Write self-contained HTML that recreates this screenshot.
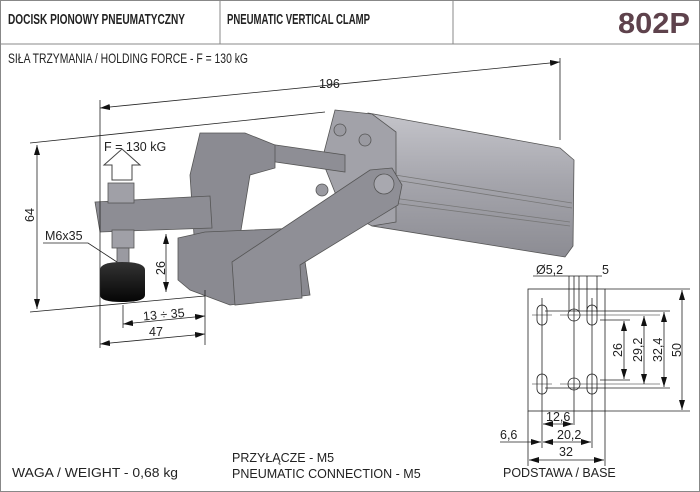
<!DOCTYPE html>
<html><head><meta charset="utf-8"><style>
html,body{margin:0;padding:0;background:#fff;}
svg{display:block;font-family:"Liberation Sans",sans-serif;}
</style></head><body>
<svg width="700" height="492" viewBox="0 0 700 492" xmlns="http://www.w3.org/2000/svg">
<defs>
<marker id="a" viewBox="0 0 10 6" refX="10" refY="3" markerWidth="10" markerHeight="6" orient="auto-start-reverse" markerUnits="userSpaceOnUse"><path d="M0,0L10,3L0,6z" fill="#111"/></marker>
<linearGradient id="cyl" x1="0" y1="0" x2="0" y2="1"><stop offset="0" stop-color="#c4c4ca"/><stop offset="0.5" stop-color="#a4a4ab"/><stop offset="1" stop-color="#8c8c93"/></linearGradient>
<linearGradient id="foot" x1="0" y1="0" x2="0" y2="1"><stop offset="0" stop-color="#333"/><stop offset="1" stop-color="#050505"/></linearGradient>
</defs>
<rect x="0.5" y="0.5" width="699" height="491" fill="#fff" stroke="#888"/>
<line x1="0" y1="44" x2="700" y2="44" stroke="#888"/>
<line x1="220" y1="0" x2="220" y2="44" stroke="#888"/>
<line x1="453" y1="0" x2="453" y2="44" stroke="#888"/>
<g font-weight="bold" font-size="14.5" fill="#222">
<text x="8" y="24" textLength="177" lengthAdjust="spacingAndGlyphs">DOCISK PIONOWY PNEUMATYCZNY</text>
<text x="227" y="24" textLength="143" lengthAdjust="spacingAndGlyphs">PNEUMATIC VERTICAL CLAMP</text>
</g>
<text x="618" y="33" font-size="29" font-weight="bold" fill="#5e424c" textLength="72" lengthAdjust="spacingAndGlyphs">802P</text>
<text x="8" y="63" font-size="14" fill="#222" textLength="240" lengthAdjust="spacingAndGlyphs">SIŁA TRZYMANIA / HOLDING FORCE - F = 130 kG</text>

<g stroke="#555" stroke-width="0.8">
<path d="M368,113 L560,148 L574,160 L573,246 L565,257 L372,226 Z" fill="url(#cyl)"/>
<path d="M395,175 L572,203 M395,180 L572,208 M393,198 L570,222 M393,203 L570,226" fill="none" stroke="#777"/>
<path d="M335,110 L372,114 L396,132 L396,222 L372,226 L342,210 L322,160 Z" fill="#a2a2a9"/>
<circle cx="340" cy="130" r="6" fill="#9a9aa1"/><circle cx="365" cy="140" r="6" fill="#9a9aa1"/><circle cx="322" cy="190" r="6" fill="#9a9aa1"/>
<path d="M262,143 L345,155 L345,172 L262,160 Z" fill="#8e8e95"/>
<path d="M200,133 L245,133 L275,145 L275,168 L250,175 L232,285 L205,290 L195,250 L190,175 Z" fill="#8b8b92"/>
<path d="M178,238 L205,232 L300,228 L310,295 L230,305 L190,290 L178,280 Z" fill="#8a8a91"/>
<path d="M232,262 L370,170 L392,168 L402,185 L398,205 L300,265 L302,298 L235,305 Z" fill="#8f8f96"/>
<circle cx="384" cy="184" r="10" fill="#a8a8af"/>
<path d="M95,202 L210,196 L212,228 L100,232 Z" fill="#8d8d94"/>
<rect x="108" y="183" width="26" height="20" fill="#a0a0a7"/>
<rect x="112" y="230" width="22" height="18" fill="#a0a0a7"/>
<rect x="117" y="248" width="12" height="16" fill="#9a9aa1"/>
</g>
<path d="M100,270 Q100,262 122,262 Q145,262 145,270 L145,295 Q145,302 122,302 Q100,302 100,295 Z" fill="url(#foot)"/>

<path d="M112,180 L112,165 L104,165 L122,149 L140,165 L132,165 L132,180 Z" fill="#fff" stroke="#444"/>
<text x="104" y="151" font-size="12.5" fill="#222">F = 130 kG</text>

<g stroke="#222" stroke-width="0.8" fill="none">
<line x1="100" y1="100" x2="100" y2="348"/>
<line x1="560" y1="58" x2="560" y2="140"/>
<line x1="100" y1="108" x2="560" y2="62" marker-start="url(#a)" marker-end="url(#a)"/>
<line x1="30" y1="143" x2="325" y2="112"/>
<line x1="30" y1="312" x2="205" y2="296"/>
<line x1="37" y1="145" x2="37" y2="309" marker-start="url(#a)" marker-end="url(#a)"/>
<line x1="205" y1="290" x2="205" y2="345"/>
<line x1="123" y1="305" x2="123" y2="328"/>
<line x1="123" y1="324" x2="205" y2="316" marker-start="url(#a)" marker-end="url(#a)"/>
<line x1="100" y1="344" x2="205" y2="334" marker-start="url(#a)" marker-end="url(#a)"/>
<line x1="166" y1="234" x2="166" y2="292" marker-start="url(#a)" marker-end="url(#a)"/>
<polyline points="43,243 88,243 117,262"/>
</g>
<g font-size="12.5" fill="#222">
<text x="319" y="88">196</text>
<text transform="translate(34,222) rotate(-90)">64</text>
<text transform="translate(165,275) rotate(-90)">26</text>
<text x="45" y="240">M6x35</text>
<text x="143" y="319" transform="rotate(-5 160 315)">13 ÷ 35</text>
<text x="149" y="336">47</text>
</g>

<g stroke="#222" stroke-width="0.8" fill="none">
<rect x="528" y="289" width="77" height="122"/>
<line x1="528" y1="411" x2="528" y2="466"/>
<line x1="605" y1="411" x2="605" y2="466"/>
<line x1="605" y1="289" x2="690" y2="289"/>
<line x1="605" y1="411" x2="690" y2="411"/>
<rect x="537" y="305" width="10" height="20" rx="5"/>
<rect x="587" y="305" width="10" height="20" rx="5"/>
<circle cx="574" cy="315" r="6"/>
<rect x="537" y="374" width="10" height="20" rx="5"/>
<rect x="587" y="374" width="10" height="20" rx="5"/>
<circle cx="574" cy="384" r="6"/>
<path d="M532,315 L552,315 M560,315 L660,315 M532,384 L552,384 M560,384 L660,384" stroke-width="0.6"/>
<line x1="542" y1="298" x2="542" y2="448"/>
<line x1="574" y1="276" x2="574" y2="425"/>
<line x1="569" y1="276" x2="569" y2="312"/>
<line x1="579" y1="276" x2="579" y2="312"/>
<line x1="587" y1="276" x2="587" y2="312"/>
<line x1="597" y1="276" x2="597" y2="312"/>
<line x1="592" y1="298" x2="592" y2="448"/>
<line x1="533" y1="276" x2="602" y2="276"/>
<line x1="545" y1="311" x2="670" y2="311"/>
<line x1="545" y1="388" x2="670" y2="388"/>
<line x1="600" y1="320" x2="630" y2="320"/>
<line x1="600" y1="380" x2="630" y2="380"/>
<line x1="682" y1="290" x2="682" y2="410" marker-start="url(#a)" marker-end="url(#a)"/>
<line x1="664" y1="312" x2="664" y2="387" marker-start="url(#a)" marker-end="url(#a)"/>
<line x1="644" y1="316" x2="644" y2="384" marker-start="url(#a)" marker-end="url(#a)"/>
<line x1="624" y1="321" x2="624" y2="379" marker-start="url(#a)" marker-end="url(#a)"/>
<line x1="543" y1="424" x2="573" y2="424" marker-start="url(#a)" marker-end="url(#a)"/>
<line x1="543" y1="442" x2="591" y2="442" marker-start="url(#a)" marker-end="url(#a)"/>
<line x1="500" y1="442" x2="541" y2="442" marker-end="url(#a)"/>
<line x1="529" y1="460" x2="604" y2="460" marker-start="url(#a)" marker-end="url(#a)"/>
</g>
<g font-size="12.5" fill="#222">
<text x="536" y="274">Ø5,2</text>
<text x="602" y="274">5</text>
<text transform="translate(622,357) rotate(-90)">26</text>
<text transform="translate(642,362) rotate(-90)">29,2</text>
<text transform="translate(662,362) rotate(-90)">32,4</text>
<text transform="translate(681,357) rotate(-90)">50</text>
<text x="546" y="421">12,6</text>
<text x="557" y="439">20,2</text>
<text x="500" y="439">6,6</text>
<text x="559" y="456">32</text>
<text x="503" y="477">PODSTAWA / BASE</text>
<text x="12" y="477" textLength="166" lengthAdjust="spacingAndGlyphs">WAGA / WEIGHT - 0,68 kg</text>
<text x="232" y="462">PRZYŁĄCZE - M5</text>
<text x="232" y="478">PNEUMATIC CONNECTION - M5</text>
</g>
</svg>
</body></html>
